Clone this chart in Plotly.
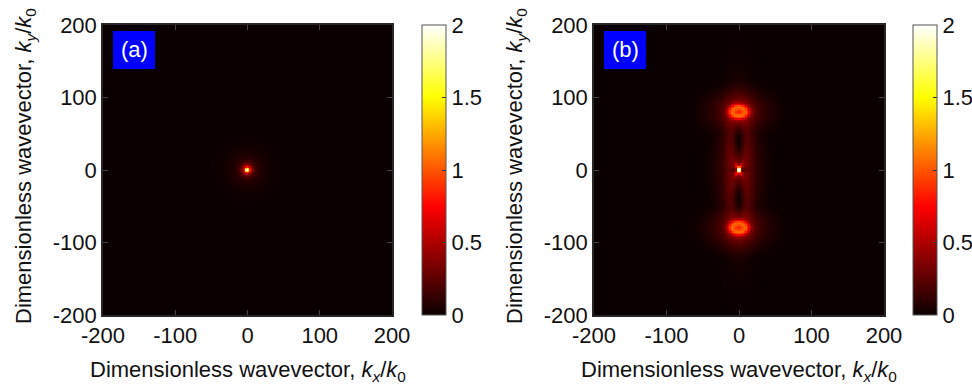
import numpy as np
import plotly.graph_objects as go

# ---- data ----
k_axis_range = [-200, 200]
tick_vals = [-200, -100, 0, 100, 200]
tick_text = ["-200", "-100", "0", "100", "200"]
cbar_ticks = [0, 0.5, 1, 1.5, 2]
cbar_text = ["0", "0.5", "1", "1.5", "2"]
panel_labels = ["(a)", "(b)"]

# panel (a): single spot at origin (core + red zone + faint halo)
a_amp = [1.5, 0.6, 0.11]
a_sigma = [2.2, 5.5, 18.0]

# panel (b): features
b_ring_y = [80, -80]          # ring centres (ky)
b_ring_amp = 0.5
b_ring_rx, b_ring_ry = 10.0, 7.0
b_ring_core = 0.3
b_blob_glow = 0.3
b_centre_amp = 1.5            # bright X at origin
b_env_amp = [0.11, 0.09]      # peanut envelope
b_glow_amp = 0.36             # glow along axis
b_lobe_y = [40, -40]          # dark lobes

# ---- grid ----
kx = np.arange(-200, 201, 2.0)
ky = np.arange(-200, 201, 2.0)
X, Y = np.meshgrid(kx, ky)
R2 = X**2 + Y**2

za = np.zeros_like(X)
for A, s in zip(a_amp, a_sigma):
    za += A * np.exp(-R2 / (2 * s**2))

zb = np.zeros_like(X)
# peanut envelope (flat-topped)
env = np.zeros_like(X)
for yc in b_ring_y:
    env = np.maximum(env, b_env_amp[0] * np.exp(-((X / 52)**2 + ((Y - yc) / 34)**2)**2))
env = np.maximum(env, b_env_amp[1] * np.exp(-((X / 38)**2 + (Y / 85)**2)**2))
zb += env
# glow along the ky axis
zb += b_glow_amp * np.exp(-X**2 / (2 * 12**2)) * np.exp(-Y**2 / (2 * 60**2))
# dark lobes
lobe = np.ones_like(X)
for yc in b_lobe_y:
    lobe -= 0.97 * np.exp(-X**2 / (2 * 6.0**2) - (Y - yc)**2 / (2 * 20**2))
# slight dark notch left/right of centre
lobe -= 0.45 * np.exp(-Y**2 / (2 * 2.5**2)) * np.exp(-X**2 / (2 * 9**2)) * (1 - np.exp(-X**2 / (2 * 2**2)))
zb *= np.clip(lobe, 0, 1)
# rings
for yc in b_ring_y:
    r = np.sqrt((X / b_ring_rx)**2 + ((Y - yc) / b_ring_ry)**2)
    zb += b_ring_amp * np.exp(-(r - 1)**2 / (2 * 0.4**2))
    zb += b_ring_core * np.exp(-r**2 / (2 * 0.6**2))
    zb += b_blob_glow * np.exp(-(X**2 / (2 * 15**2) + (Y - yc)**2 / (2 * 12**2)))
# central X
zb += b_centre_amp * np.exp(-R2 / (2 * 1.7**2))
for ang in [62, -62, 118, -118]:
    t = np.deg2rad(ang)
    u = X * np.cos(t) + Y * np.sin(t)
    v = -X * np.sin(t) + Y * np.cos(t)
    zb += 0.55 * np.exp(-v**2 / (2 * 1.6**2)) * np.exp(-((u - 4)**2) / (2 * 4**2))
zb = np.clip(zb, 0, 2)

hot = [[0.0, "rgb(11,0,0)"], [0.375, "rgb(255,0,0)"],
       [0.75, "rgb(255,255,0)"], [1.0, "rgb(255,255,255)"]]

W, H = 972, 392
pa = dict(x0=103, x1=392, y0=25, y1=315)
pb = dict(x0=594, x1=884, y0=25, y1=315)
cbx = [422, 913]
FS = 22

def px(v):
    return v / W

def py(v):
    return 1 - v / H

fig = go.Figure()
font = "Liberation Sans, Arial, sans-serif"
for i, (z, p, cx) in enumerate([(za, pa, cbx[0]), (zb, pb, cbx[1])]):
    fig.add_trace(go.Heatmap(
        x=kx, y=ky, z=z, zmin=0, zmax=2, colorscale=hot, zsmooth=False,
        xaxis="x" if i == 0 else "x2", yaxis="y" if i == 0 else "y2",
        colorbar=dict(
            x=px(cx), xanchor="left", xref="paper", xpad=0, ypad=0,
            y=py((p["y0"] + p["y1"]) / 2), yanchor="middle",
            len=p["y1"] - p["y0"], lenmode="pixels",
            thickness=24, thicknessmode="pixels",
            outlinecolor="#555", outlinewidth=1,
            tickvals=cbar_ticks, ticktext=cbar_text, ticks="inside",
            ticklen=4, tickcolor="#333",
            tickfont=dict(family=font, size=FS, color="#111"),
        ),
        hoverinfo="skip",
    ))

axis_common = dict(range=k_axis_range, tickvals=tick_vals, ticktext=tick_text,
                   ticks="inside", ticklen=5, tickcolor="#444", showgrid=False,
                   zeroline=False, showline=True, linecolor="#262626",
                   linewidth=1.5, mirror="ticks", automargin=False,
                   tickfont=dict(family=font, size=FS, color="#111"))

fig.update_layout(
    width=W, height=H, margin=dict(l=0, r=0, t=0, b=0, autoexpand=False),
    paper_bgcolor="white", plot_bgcolor="rgb(11,0,0)", showlegend=False,
    xaxis=dict(domain=[px(pa["x0"]), px(pa["x1"])], anchor="y", **axis_common),
    yaxis=dict(domain=[py(pa["y1"]), py(pa["y0"])], anchor="x", **axis_common),
    xaxis2=dict(domain=[px(pb["x0"]), px(pb["x1"])], anchor="y2", **axis_common),
    yaxis2=dict(domain=[py(pb["y1"]), py(pb["y0"])], anchor="x2", **axis_common),
)

xtitle = "Dimensionless wavevector, <i>k</i><sub><i>x</i></sub>/<i>k</i><sub>0</sub>"
ytitle = "Dimensionless wavevector, <i>k</i><sub><i>y</i></sub>/<i>k</i><sub>0</sub>"
for i, p in enumerate([pa, pb]):
    xc = (p["x0"] + p["x1"]) / 2
    yc = (p["y0"] + p["y1"]) / 2
    fig.add_annotation(x=px(xc), y=py(371), xref="paper", yref="paper",
                       text=xtitle, showarrow=False, xanchor="center", yanchor="middle",
                       font=dict(family=font, size=FS, color="#111"))
    fig.add_annotation(x=px(p["x0"] - 78), y=py(yc - 4), xref="paper", yref="paper",
                       text=ytitle, showarrow=False, textangle=-90,
                       xanchor="center", yanchor="middle",
                       font=dict(family=font, size=FS, color="#111"))
    # label box
    bx0, bx1 = p["x0"] + 10, p["x0"] + 52
    by0, by1 = p["y0"] + 6, p["y0"] + 44
    fig.add_shape(type="rect", xref="paper", yref="paper",
                  x0=px(bx0), x1=px(bx1), y0=py(by1), y1=py(by0),
                  fillcolor="rgb(0,0,255)", line=dict(width=0), layer="above")
    fig.add_annotation(x=px((bx0 + bx1) / 2), y=py((by0 + by1) / 2), xref="paper", yref="paper",
                       text=panel_labels[i], showarrow=False, xanchor="center", yanchor="middle",
                       font=dict(family=font, size=FS, color="white"))

fig.write_html("out.html")
